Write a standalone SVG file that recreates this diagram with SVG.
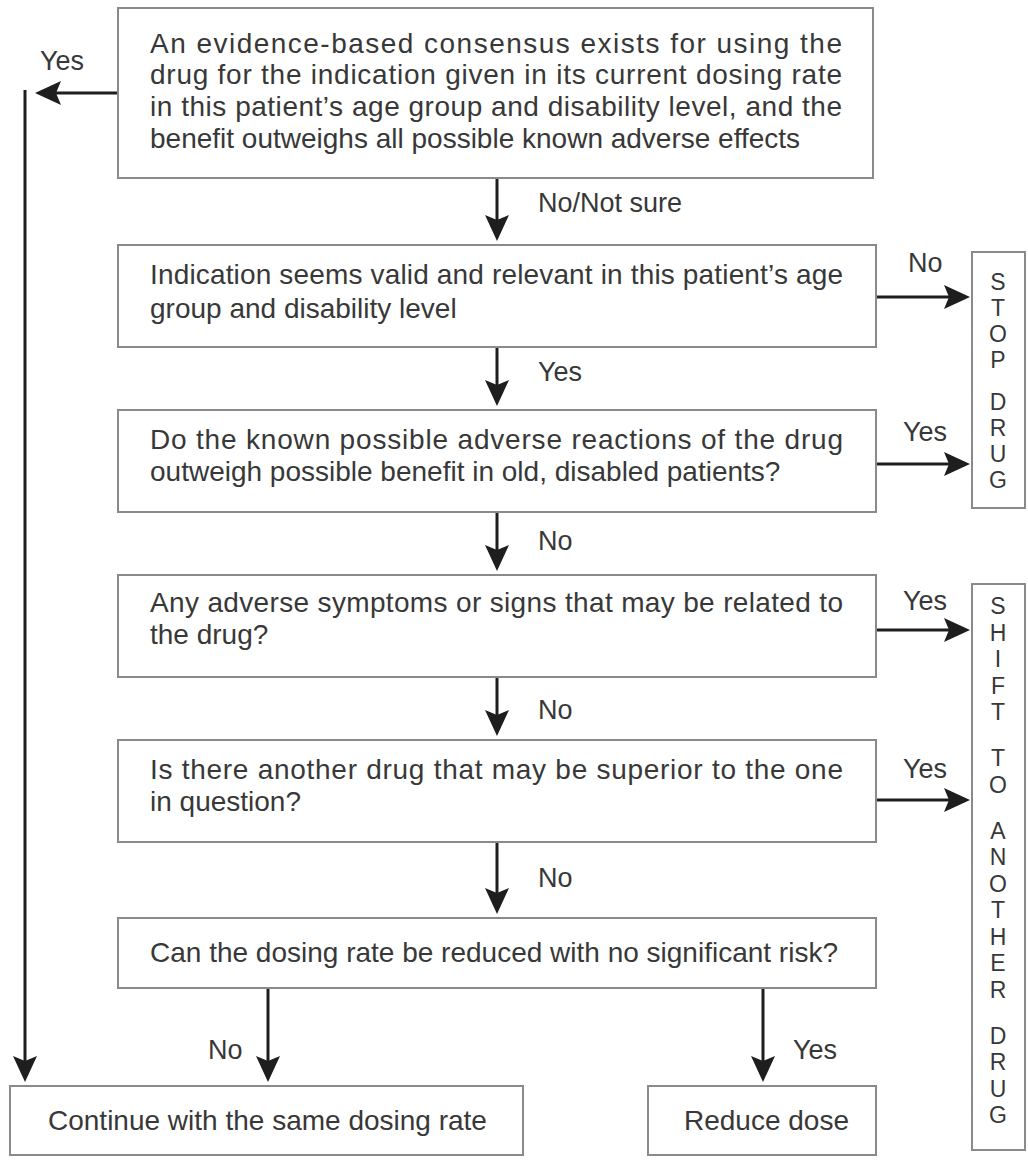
<svg xmlns="http://www.w3.org/2000/svg" width="1028" height="1160" viewBox="0 0 1028 1160">
<defs>
<marker id="ah" markerUnits="userSpaceOnUse" markerWidth="28" markerHeight="28" viewBox="0 -14 28 28" refX="16" refY="0" orient="auto">
<path d="M0,-12 L26,0 L0,12 L5,0 Z" fill="#1e1e1e"/>
</marker>
<style>
.box{fill:#fff;stroke:#8a8a8a;stroke-width:2}
.t{font-family:"Liberation Sans",Arial,sans-serif;font-size:28px;fill:#383838}
.lb{font-family:"Liberation Sans",Arial,sans-serif;font-size:27px;fill:#383838}
.v{font-family:"Liberation Sans",Arial,sans-serif;font-size:23px;fill:#383838;text-anchor:middle}
.ca{stroke:#1e1e1e;stroke-width:3;fill:none;marker-end:url(#ah)}
</style>
</defs>
<rect width="1028" height="1160" fill="#fff"/>
<g id="connectors">
<line class="ca" x1="118" y1="93" x2="45" y2="93"/>
<line class="ca" x1="25" y1="90" x2="25" y2="1072"/>
<line class="ca" x1="497" y1="178" x2="497" y2="231"/>
<line class="ca" x1="497" y1="347" x2="497" y2="396"/>
<line class="ca" x1="497" y1="512" x2="497" y2="561"/>
<line class="ca" x1="497" y1="677" x2="497" y2="726"/>
<line class="ca" x1="497" y1="842" x2="497" y2="904"/>
<line class="ca" x1="876" y1="297" x2="960" y2="297"/>
<line class="ca" x1="876" y1="464" x2="960" y2="464"/>
<line class="ca" x1="876" y1="630" x2="960" y2="630"/>
<line class="ca" x1="876" y1="800" x2="960" y2="800"/>
<line class="ca" x1="268" y1="988" x2="268" y2="1072"/>
<line class="ca" x1="763" y1="988" x2="763" y2="1072"/>
<text class="lb" x="40" y="70">Yes</text>
<text class="lb" x="538" y="212">No/Not sure</text>
<text class="lb" x="908" y="272">No</text>
<text class="lb" x="538" y="381">Yes</text>
<text class="lb" x="903" y="441">Yes</text>
<text class="lb" x="538" y="550">No</text>
<text class="lb" x="903" y="610">Yes</text>
<text class="lb" x="538" y="719">No</text>
<text class="lb" x="903" y="778">Yes</text>
<text class="lb" x="538" y="887">No</text>
<text class="lb" x="208" y="1059">No</text>
<text class="lb" x="793" y="1059">Yes</text>
</g>
<g id="q1">
<rect class="box" x="118" y="8" width="755" height="170"/>
<text class="t" x="150" y="53" textLength="692" lengthAdjust="spacing">An evidence-based consensus exists for using the</text>
<text class="t" x="150" y="84" textLength="692" lengthAdjust="spacing">drug for the indication given in its current dosing rate</text>
<text class="t" x="150" y="116" textLength="692" lengthAdjust="spacing">in this patient’s age group and disability level, and the</text>
<text class="t" x="150" y="148">benefit outweighs all possible known adverse effects</text>
</g>
<g id="q2">
<rect class="box" x="118" y="245" width="758" height="102"/>
<text class="t" x="150" y="284" textLength="693" lengthAdjust="spacing">Indication seems valid and relevant in this patient’s age</text>
<text class="t" x="150" y="318">group and disability level</text>
</g>
<g id="q3">
<rect class="box" x="118" y="410" width="758" height="102"/>
<text class="t" x="150" y="449" textLength="693" lengthAdjust="spacing">Do the known possible adverse reactions of the drug</text>
<text class="t" x="150" y="481">outweigh possible benefit in old, disabled patients?</text>
</g>
<g id="q4">
<rect class="box" x="118" y="575" width="758" height="102"/>
<text class="t" x="150" y="612" textLength="693" lengthAdjust="spacing">Any adverse symptoms or signs that may be related to</text>
<text class="t" x="150" y="644">the drug?</text>
</g>
<g id="q5">
<rect class="box" x="118" y="740" width="758" height="102"/>
<text class="t" x="150" y="779" textLength="693" lengthAdjust="spacing">Is there another drug that may be superior to the one</text>
<text class="t" x="150" y="811">in question?</text>
</g>
<g id="q6">
<rect class="box" x="118" y="918" width="758" height="70"/>
<text class="t" x="150" y="962">Can the dosing rate be reduced with no significant risk?</text>
</g>
<g id="stop">
<rect class="box" x="972" y="252" width="53" height="256"/>
<text class="v"><tspan x="998" y="290">S</tspan><tspan x="998" y="316">T</tspan><tspan x="998" y="342">O</tspan><tspan x="998" y="368">P</tspan><tspan x="998" y="410">D</tspan><tspan x="998" y="436">R</tspan><tspan x="998" y="462">U</tspan><tspan x="998" y="488">G</tspan></text>
</g>
<g id="shift">
<rect class="box" x="972" y="584" width="53" height="566"/>
<text class="v"><tspan x="998" y="614">S</tspan><tspan x="998" y="640.5">H</tspan><tspan x="998" y="667">I</tspan><tspan x="998" y="693.5">F</tspan><tspan x="998" y="720">T</tspan><tspan x="998" y="766">T</tspan><tspan x="998" y="792.5">O</tspan><tspan x="998" y="838.5">A</tspan><tspan x="998" y="865">N</tspan><tspan x="998" y="891.5">O</tspan><tspan x="998" y="918">T</tspan><tspan x="998" y="944.5">H</tspan><tspan x="998" y="971">E</tspan><tspan x="998" y="997.5">R</tspan><tspan x="998" y="1043.5">D</tspan><tspan x="998" y="1070">R</tspan><tspan x="998" y="1096.5">U</tspan><tspan x="998" y="1123">G</tspan></text>
</g>
<g id="cont">
<rect class="box" x="10" y="1086" width="513" height="69"/>
<text class="t" x="48" y="1130">Continue with the same dosing rate</text>
</g>
<g id="reduce">
<rect class="box" x="648" y="1086" width="228" height="69"/>
<text class="t" x="684" y="1130">Reduce dose</text>
</g>
</svg>
